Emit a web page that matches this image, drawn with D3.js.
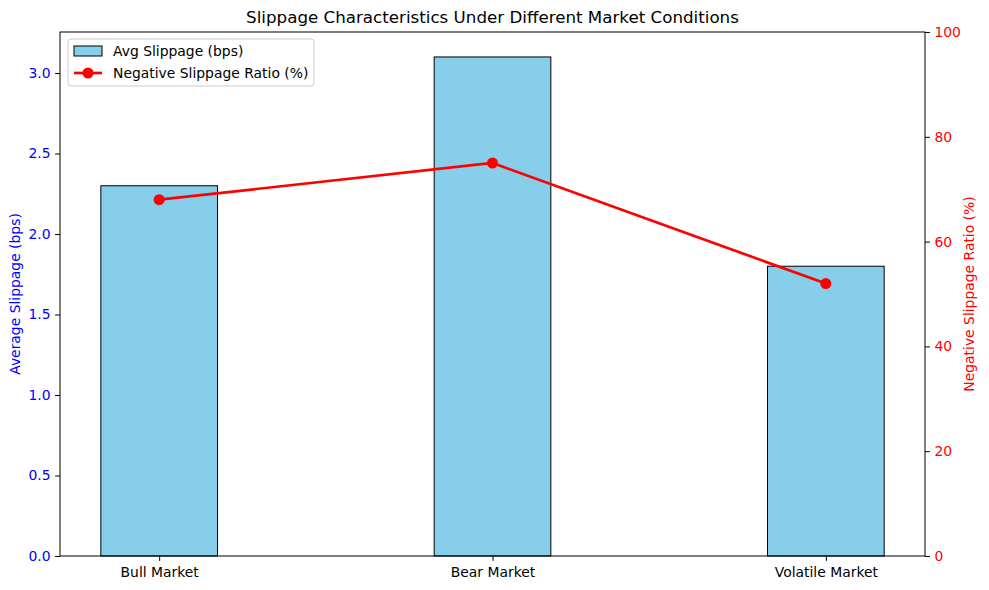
<!DOCTYPE html>
<html><head><meta charset="utf-8">
<script src="https://cdn.jsdelivr.net/npm/d3@7"></script>
<style>body{margin:0;background:#fff}svg{font-family:"DejaVu Sans",sans-serif}</style>
</head><body><svg id="c" width="989" height="590"></svg>
<script>
const categories = ["Bull Market", "Bear Market", "Volatile Market"];
const avgSlippage = [2.3, 3.1, 1.8];
const negRatio = [68, 75, 52];
const leftTicks = [0, 0.5, 1.0, 1.5, 2.0, 2.5, 3.0];
const rightTicks = [0, 20, 40, 60, 80, 100];

const FS = "13.9px";
const svg = d3.select("#c");
const L = 60, R = 925, T = 32, B = 556;
const barW = 0.35;
const x = d3.scaleLinear().domain([-0.2975, 2.2975]).range([L, R]);
const y = d3.scaleLinear().domain([0, 3.255]).range([B, T]);
const y2 = d3.scaleLinear().domain([0, 100]).range([B, T]);

// bars
svg.append("g").selectAll("rect").data(avgSlippage).join("rect")
  .attr("x", (d,i)=>x(i-barW/2)).attr("width", (d,i)=>x(i+barW/2)-x(i-barW/2))
  .attr("y", d=>y(d)).attr("height", d=>B-y(d))
  .attr("fill", "#87ceeb").attr("stroke", "#000").attr("stroke-width", 1);

function styleAxis(g, color){
  g.attr("font-size", null).attr("font-family", null);
  g.select(".domain").remove();
  g.selectAll("line").attr("stroke","#000");
  g.selectAll("text").attr("fill",color).style("font-size",FS);
}
// left axis
const ga = svg.append("g").attr("transform", `translate(${L},0)`)
  .call(d3.axisLeft(y).tickValues(leftTicks).tickFormat(d3.format(".1f")).tickSize(4.9).tickPadding(4.5));
styleAxis(ga, "#0000ff");

// right axis
const gb = svg.append("g").attr("transform", `translate(${R},0)`)
  .call(d3.axisRight(y2).tickValues(rightTicks).tickSize(4.9).tickPadding(4.5));
styleAxis(gb, "#ff0000");

// bottom axis
const gx = svg.append("g").attr("transform", `translate(0,${B})`)
  .call(d3.axisBottom(x).tickValues([0,1,2]).tickFormat(i=>categories[i]).tickSize(4.9).tickPadding(6));
styleAxis(gx, "#000");

// frame
svg.append("rect").attr("x",L).attr("y",T).attr("width",R-L).attr("height",B-T)
  .attr("fill","none").attr("stroke","#000").attr("stroke-width",1);

// line
const line = d3.line().x((d,i)=>x(i)).y(d=>y2(d));
svg.append("path").datum(negRatio).attr("d", line)
  .attr("fill","none").attr("stroke","#ff0000").attr("stroke-width",2.7);
svg.append("g").selectAll("circle").data(negRatio).join("circle")
  .attr("cx",(d,i)=>x(i)).attr("cy",d=>y2(d)).attr("r",5.5).attr("fill","#ff0000");

// titles
svg.append("text").attr("x",(L+R)/2).attr("y",23).attr("text-anchor","middle")
  .style("font-size","16.7px").text("Slippage Characteristics Under Different Market Conditions");
svg.append("text").attr("transform",`translate(20,${(T+B)/2}) rotate(-90)`).attr("text-anchor","middle")
  .attr("fill","#0000ff").style("font-size",FS).text("Average Slippage (bps)");
svg.append("text").attr("transform",`translate(974,${(T+B)/2}) rotate(-90)`).attr("text-anchor","middle")
  .attr("fill","#ff0000").style("font-size",FS).text("Negative Slippage Ratio (%)");

// legend
const lg = svg.append("g");
lg.append("rect").attr("x",68).attr("y",39).attr("width",246).attr("height",47).attr("rx",3)
  .attr("fill","#fff").attr("fill-opacity",0.8).attr("stroke","#cccccc");
lg.append("rect").attr("x",74).attr("y",46).attr("width",28).attr("height",10)
  .attr("fill","#87ceeb").attr("stroke","#000");
lg.append("text").attr("x",113).attr("y",56).style("font-size",FS).text("Avg Slippage (bps)");
lg.append("line").attr("x1",74).attr("x2",102).attr("y1",73).attr("y2",73).attr("stroke","#ff0000").attr("stroke-width",2.7);
lg.append("circle").attr("cx",88).attr("cy",73).attr("r",5.5).attr("fill","#ff0000");
lg.append("text").attr("x",113).attr("y",78).style("font-size",FS).text("Negative Slippage Ratio (%)");
</script></body></html>
